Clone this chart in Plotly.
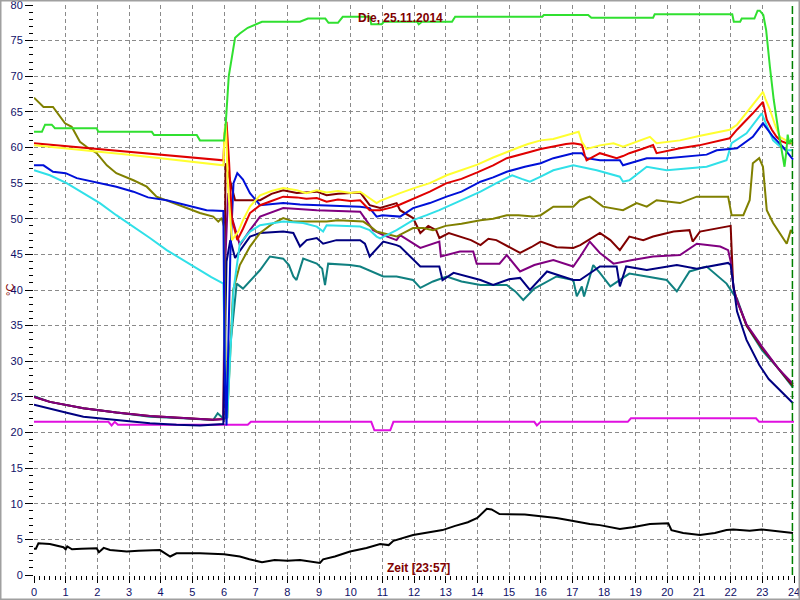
import plotly.graph_objects as go

# ---------------- data (hours, °C) ----------------
green_h = [0, 0.25, 0.35, 0.56, 0.66, 1.98, 2.03, 3.72, 3.79, 5.14, 5.24, 6.0, 6.05, 6.15, 6.35, 6.5, 6.75, 7.0, 7.2, 8.4, 8.65, 9.2, 9.3, 9.6, 9.75, 10.6, 10.65, 10.98, 11.05, 12.1, 12.15, 12.25, 13.2, 13.3, 16.05, 16.1, 17.5, 17.6, 19.55, 19.6, 22.05, 22.1, 22.3, 22.35, 22.75, 22.85, 22.92, 23.03, 23.12, 23.24, 23.36, 23.5, 23.6, 23.7, 23.76, 23.8, 23.85, 23.9, 23.95]
green_v = [62.2, 62.2, 63.2, 63.2, 62.7, 62.7, 62.2, 62.2, 61.75, 61.75, 61.0, 61.0, 63.0, 70.0, 75.4, 76.0, 76.8, 77.3, 77.65, 77.65, 78.1, 78.1, 77.5, 77.5, 78.35, 78.35, 77.3, 77.3, 77.65, 77.65, 77.3, 77.65, 77.65, 78.35, 78.35, 78.6, 78.6, 78.2, 78.2, 78.7, 78.7, 77.65, 77.65, 78.1, 78.1, 79.2, 79.2, 78.6, 76.5, 71.3, 66.7, 62.5, 60.0, 57.3, 59.5, 61.8, 60.5, 61.0, 60.8]

yellow_h = [0, 1, 2, 3, 4, 5, 5.98, 6.02, 6.06, 6.12, 6.25, 6.45, 6.6, 6.82, 7.14, 7.5, 7.87, 8.3, 8.6, 8.93, 9.24, 9.6, 10.0, 10.3, 10.6, 10.82, 10.93, 11.2, 11.56, 12.0, 12.5, 13.03, 13.5, 14.0, 14.5, 14.93, 15.3, 15.6, 16.0, 16.4, 16.8, 17.0, 17.2, 17.3, 17.45, 17.87, 18.3, 18.6, 19.0, 19.45, 19.66, 20.0, 20.4, 21.0, 21.5, 21.97, 22.2, 22.4, 22.6, 22.82, 23.02, 23.1, 23.24, 23.4, 23.55, 23.75, 23.97]
yellow_v = [60.3, 59.9, 59.4, 59.0, 58.5, 58.0, 57.5, 62.5, 63.5, 55.0, 47.0, 48.2, 49.8, 51.7, 53.3, 53.9, 54.3, 54.0, 53.6, 54.0, 53.7, 53.9, 53.6, 53.8, 52.8, 52.2, 52.5, 53.0, 53.6, 54.3, 55.0, 56.1, 56.8, 57.6, 58.6, 59.4, 60.0, 60.5, 61.0, 61.2, 61.7, 62.0, 62.2, 60.8, 59.8, 60.3, 60.6, 60.1, 60.8, 61.5, 60.6, 60.8, 61.0, 61.6, 62.1, 62.5, 63.2, 64.3, 65.5, 66.7, 67.8, 66.8, 65.3, 63.2, 61.5, 61.0, 60.6]

red_h = [0, 1, 2, 3, 4, 5, 5.98, 6.02, 6.08, 6.16, 6.25, 6.42, 6.6, 6.82, 7.14, 7.5, 7.87, 8.3, 8.6, 8.93, 9.24, 9.6, 10.0, 10.3, 10.6, 10.93, 11.3, 11.56, 12.0, 12.5, 13.03, 13.5, 14.0, 14.5, 14.93, 15.3, 15.6, 16.0, 16.4, 16.8, 17.03, 17.3, 17.4, 17.45, 17.87, 18.4, 18.6, 18.8, 19.2, 19.55, 19.66, 20.0, 20.4, 21.0, 21.5, 21.97, 22.2, 22.45, 22.7, 23.02, 23.14, 23.3, 23.45, 23.6, 23.77, 23.97]
red_v = [60.6, 60.2, 59.8, 59.4, 59.0, 58.6, 58.2, 62.0, 63.6, 58.0, 50.0, 47.0, 48.6, 50.8, 51.9, 52.5, 53.1, 53.0, 52.8, 52.9, 52.4, 52.7, 52.5, 52.6, 51.2, 51.2, 51.6, 52.0, 52.8, 53.8, 55.0, 55.6, 56.5, 57.5, 58.5, 59.0, 59.3, 59.8, 60.2, 60.5, 60.6, 60.4, 58.8, 58.2, 59.2, 58.5, 58.8, 59.2, 59.8, 60.35, 59.2, 59.5, 59.9, 60.3, 60.8, 61.3, 62.5, 63.6, 64.8, 66.4, 63.9, 62.5, 61.5, 60.9, 60.6, 60.6]

blue_h = [0, 0.3, 0.6, 1.0, 1.35, 2.08, 2.6, 3.14, 3.6, 4.19, 4.82, 5.45, 5.98, 6.02, 6.08, 6.2, 6.3, 6.42, 6.6, 6.82, 7.14, 7.5, 7.87, 8.4, 8.93, 9.5, 10.3, 10.6, 10.82, 11.0, 11.56, 11.97, 12.5, 13.03, 13.5, 14.1, 14.5, 14.93, 15.5, 16.0, 16.4, 17.03, 17.3, 17.45, 17.87, 18.5, 18.6, 19.35, 20.0, 21.24, 21.56, 22.2, 22.7, 23.02, 23.34, 23.65, 23.97]
blue_v = [57.5, 57.5, 56.6, 56.4, 55.7, 55.0, 54.5, 53.8, 53.0, 52.6, 51.9, 51.2, 51.1, 30.0, 21.0, 45.0, 55.0, 56.4, 55.5, 53.6, 51.9, 52.0, 52.2, 52.0, 51.9, 51.8, 51.7, 51.5, 50.3, 50.5, 50.3, 51.5, 52.2, 53.1, 53.8, 55.2, 55.8, 56.6, 57.3, 57.8, 58.5, 59.2, 59.2, 58.5, 58.2, 58.2, 57.5, 58.5, 58.5, 59.0, 59.6, 59.9, 61.5, 63.4, 61.5, 60.1, 58.3]

cyan_h = [0, 0.5, 1.03, 1.5, 2.08, 2.6, 3.14, 3.66, 4.19, 4.7, 5.24, 5.6, 5.98, 6.03, 6.1, 6.3, 6.5, 6.82, 7.14, 7.87, 8.5, 8.93, 9.13, 9.24, 10.3, 10.6, 10.82, 10.93, 11.45, 11.97, 12.4, 12.8, 13.4, 14.1, 14.6, 15.1, 15.4, 15.66, 16.0, 16.4, 17.03, 17.24, 17.77, 18.5, 18.6, 18.8, 19.35, 19.98, 20.5, 21.24, 21.87, 22.03, 22.5, 22.98, 23.1, 23.34, 23.55, 23.77, 23.97]
cyan_v = [56.8, 56.1, 55.0, 53.7, 52.2, 50.5, 48.9, 47.3, 45.6, 44.2, 42.8, 41.8, 40.9, 30.0, 22.0, 40.0, 46.5, 48.2, 49.1, 49.6, 49.4, 48.9, 48.2, 49.1, 48.9, 48.4, 47.5, 47.25, 48.4, 49.8, 50.5, 51.2, 52.4, 53.8, 55.0, 56.1, 55.6, 55.2, 55.9, 56.8, 57.5, 57.3, 56.8, 55.9, 55.2, 55.4, 57.3, 56.8, 57.0, 57.3, 58.2, 60.6, 62.0, 64.8, 63.5, 61.0, 60.2, 59.6, 59.6]

olive_h = [0, 0.3, 0.6, 0.98, 1.19, 1.45, 1.66, 1.98, 2.3, 2.6, 3.14, 3.56, 3.87, 4.4, 4.8, 5.24, 5.66, 5.82, 5.93, 6.0, 6.05, 6.1, 6.29, 6.5, 6.82, 7.14, 7.5, 7.87, 8.19, 8.6, 9.24, 9.6, 10.4, 10.6, 10.82, 11.0, 11.45, 11.97, 12.3, 12.6, 13.0, 13.5, 14.1, 14.5, 14.93, 15.3, 15.76, 16.0, 16.4, 17.03, 17.24, 17.55, 17.97, 18.6, 19.03, 19.35, 19.66, 20.4, 20.93, 21.92, 22.03, 22.4, 22.6, 22.7, 22.9, 23.02, 23.14, 23.34, 23.55, 23.77, 23.9, 23.97]
olive_v = [67.0, 65.7, 65.7, 63.4, 62.9, 60.8, 60.1, 59.2, 57.5, 56.4, 55.4, 54.5, 53.1, 52.2, 51.5, 50.8, 50.3, 49.6, 50.1, 48.9, 30.0, 22.0, 40.0, 43.5, 46.1, 48.0, 49.2, 50.1, 49.6, 49.6, 49.6, 49.8, 49.6, 49.0, 48.2, 48.0, 47.5, 48.7, 48.7, 48.4, 49.0, 49.3, 49.8, 50.0, 50.5, 50.5, 50.3, 50.5, 51.7, 51.7, 52.6, 53.1, 51.7, 51.2, 52.2, 51.7, 52.6, 52.2, 53.1, 53.1, 50.5, 50.5, 52.6, 57.8, 58.5, 57.3, 51.2, 49.4, 48.0, 46.5, 48.4, 48.0]

maroon_h = [0, 0.5, 1.56, 2.6, 3.66, 4.7, 5.66, 5.98, 6.05, 6.35, 7.14, 7.5, 7.87, 8.3, 8.93, 9.24, 9.6, 10.3, 10.6, 10.93, 11.45, 11.56, 11.97, 12.2, 12.45, 12.7, 12.8, 13.1, 13.45, 13.8, 14.1, 14.35, 14.6, 15.0, 15.35, 15.7, 16.0, 16.5, 17.03, 17.25, 17.66, 17.87, 18.2, 18.5, 18.8, 19.24, 19.55, 20.2, 20.7, 20.8, 21.03, 21.92, 22.0, 22.08, 22.2, 22.5, 23.0, 23.5, 23.97]
maroon_v = [25.0, 24.3, 23.4, 22.8, 22.3, 22.0, 21.8, 21.9, 57.8, 52.6, 52.6, 53.5, 54.0, 53.6, 53.8, 53.3, 53.5, 53.7, 51.9, 51.5, 52.2, 51.2, 50.1, 48.0, 49.0, 48.4, 47.3, 48.0, 47.5, 47.0, 46.3, 47.2, 47.0, 46.0, 45.2, 46.0, 46.8, 46.0, 45.9, 46.3, 47.5, 48.0, 47.0, 45.6, 47.5, 47.0, 47.5, 48.2, 48.4, 46.8, 48.2, 49.0, 49.0, 40.5, 38.5, 35.0, 31.8, 29.0, 26.5]

purple_h = [0, 0.5, 1.56, 2.6, 3.66, 4.7, 5.66, 5.98, 6.05, 6.13, 6.24, 6.5, 6.82, 7.14, 7.87, 8.93, 10.3, 10.71, 11.03, 11.45, 11.56, 12.2, 12.8, 12.85, 13.45, 13.87, 13.98, 14.7, 14.93, 15.35, 15.8, 16.4, 17.03, 17.25, 17.55, 17.87, 18.3, 18.9, 19.55, 20.4, 20.93, 21.67, 21.92, 22.0, 22.1, 22.2, 22.5, 23.0, 23.5, 23.97]
purple_v = [25.0, 24.3, 23.4, 22.8, 22.3, 22.0, 21.8, 21.9, 45.0, 53.6, 50.3, 46.3, 48.4, 50.3, 51.5, 51.2, 51.0, 48.4, 47.7, 47.0, 47.7, 45.9, 46.8, 44.7, 45.4, 45.4, 43.7, 43.7, 44.9, 42.6, 43.5, 44.2, 43.3, 44.7, 46.8, 45.2, 43.7, 44.2, 44.7, 44.9, 46.5, 46.1, 45.6, 44.0, 40.0, 38.5, 35.2, 32.0, 29.0, 26.8]

navy_h = [0, 0.5, 1.0, 1.56, 2.6, 3.66, 4.5, 5.24, 5.98, 6.03, 6.08, 6.2, 6.35, 6.5, 6.82, 7.14, 7.87, 8.19, 8.4, 8.61, 8.93, 9.13, 9.55, 10.3, 10.45, 10.6, 11.03, 11.45, 11.56, 12.2, 12.8, 12.9, 13.25, 14.1, 14.5, 15.0, 15.35, 15.66, 16.2, 17.03, 17.24, 17.87, 18.4, 18.5, 18.7, 19.35, 20.3, 20.93, 21.92, 22.0, 22.1, 22.2, 22.5, 22.9, 23.2, 23.55, 23.97]
navy_v = [23.9, 23.3, 22.8, 22.2, 21.75, 21.3, 21.1, 21.0, 21.2, 35.0, 44.0, 47.0, 44.5, 45.5, 47.5, 48.0, 48.2, 48.0, 46.1, 47.0, 47.3, 46.5, 47.0, 47.0, 46.5, 44.7, 46.8, 46.3, 46.1, 43.3, 43.3, 41.4, 42.4, 41.4, 40.7, 41.5, 41.7, 40.0, 42.6, 41.4, 41.4, 43.3, 43.3, 40.5, 43.3, 42.8, 43.5, 43.0, 43.8, 43.5, 40.0, 37.0, 33.0, 29.5, 27.5, 26.0, 24.1]

teal_h = [0, 0.5, 1.56, 2.6, 3.66, 4.7, 5.66, 5.8, 5.97, 6.05, 6.15, 6.4, 6.6, 7.14, 7.45, 7.87, 8.05, 8.19, 8.29, 8.5, 8.93, 9.1, 9.19, 9.29, 9.98, 10.3, 10.82, 11.03, 11.45, 11.97, 12.2, 12.6, 13.03, 13.5, 14.1, 14.93, 15.2, 15.45, 15.8, 16.5, 17.03, 17.14, 17.3, 17.37, 17.66, 17.87, 18.2, 18.8, 19.35, 19.98, 20.3, 20.7, 21.24, 21.87, 22.08, 22.2, 22.5, 23.0, 23.5, 23.97]
teal_v = [25.1, 24.3, 23.4, 22.8, 22.2, 22.0, 21.75, 22.7, 22.0, 22.0, 30.0, 40.9, 40.2, 42.8, 44.7, 44.4, 43.5, 41.9, 41.4, 44.4, 43.7, 43.0, 40.7, 43.7, 43.5, 43.3, 42.3, 41.9, 41.9, 41.4, 40.3, 41.2, 41.9, 41.2, 40.7, 40.7, 39.8, 38.6, 40.2, 41.9, 41.4, 39.1, 40.5, 39.1, 43.5, 42.4, 40.5, 42.3, 41.9, 41.4, 39.8, 42.6, 43.3, 40.9, 39.5, 38.8, 35.0, 31.5, 29.0, 26.3]

magenta_h = [0, 2.35, 2.45, 2.55, 2.65, 6.75, 6.85, 10.65, 10.75, 11.25, 11.35, 15.8, 15.88, 16.0, 18.75, 18.85, 22.8, 22.9, 24.0]
magenta_v = [21.5, 21.5, 21.0, 21.5, 21.1, 21.1, 21.5, 21.5, 20.3, 20.3, 21.5, 21.5, 21.0, 21.5, 21.5, 22.0, 22.0, 21.5, 21.5]

black_h = [0, 0.06, 0.14, 0.5, 0.93, 1.0, 1.05, 1.2, 1.5, 1.98, 2.05, 2.2, 2.4, 2.93, 3.3, 3.98, 4.3, 4.5, 5.24, 5.8, 6.0, 6.5, 6.8, 7.2, 7.6, 8.0, 8.4, 9.03, 9.13, 9.5, 9.98, 10.5, 10.93, 11.2, 11.35, 11.97, 12.6, 12.9, 13.3, 13.7, 14.0, 14.3, 14.45, 14.7, 15.5, 16.0, 16.5, 16.9, 17.55, 17.87, 18.5, 18.9, 19.45, 20.03, 20.13, 20.5, 21.03, 21.5, 21.87, 22.08, 22.6, 22.98, 23.55, 23.97]
black_v = [3.7, 3.7, 4.45, 4.35, 3.9, 3.6, 4.0, 3.6, 3.7, 3.75, 3.2, 3.8, 3.5, 3.3, 3.4, 3.5, 2.6, 3.05, 3.05, 2.9, 2.9, 2.6, 2.2, 1.8, 2.1, 2.0, 2.1, 1.7, 2.2, 2.6, 3.3, 3.8, 4.35, 4.2, 4.8, 5.6, 6.1, 6.3, 6.9, 7.4, 8.0, 9.3, 9.2, 8.55, 8.5, 8.3, 8.0, 7.7, 7.15, 7.0, 6.45, 6.7, 7.15, 7.25, 6.3, 5.9, 5.6, 5.9, 6.3, 6.4, 6.2, 6.4, 6.1, 5.9]

now_h = 23 + 57 / 60
title_text = "Die, 25.11.2014"
time_text = "Zeit [23:57]"
unit_text = "°C"

x_ticks = list(range(0, 25))
y_ticks = list(range(0, 85, 5))

series = [
    (black_h, black_v, "#000000"),
    (magenta_h, magenta_v, "#e010e0"),
    (teal_h, teal_v, "#108080"),
    (maroon_h, maroon_v, "#800000"),
    (purple_h, purple_v, "#800080"),
    (navy_h, navy_v, "#000080"),
    (olive_h, olive_v, "#808000"),
    (cyan_h, cyan_v, "#30e0e8"),
    (blue_h, blue_v, "#0010d8"),
    (red_h, red_v, "#e00000"),
    (yellow_h, yellow_v, "#ffff30"),
    (green_h, green_v, "#30e030"),
]

fig = go.Figure()
for xs, ys, col in series:
    fig.add_trace(go.Scatter(x=xs, y=ys, mode="lines",
                             line=dict(color=col, width=2), showlegend=False,
                             hoverinfo="skip"))

W, H = 800, 600
ML, MR, MT, MB = 34, 6, 5, 25
pw, ph = W - ML - MR, H - MT - MB

def px_x(p):
    return (p - ML) / pw

def px_y(p):
    return (H - MB - p) / ph

tickfont = dict(family="Liberation Sans, Arial, sans-serif", size=11, color="#101068")
axis_common = dict(showgrid=True, gridcolor="#8a8a8a", gridwidth=1, griddash="4px,3px",
                   zeroline=False, showline=False, ticks="outside", tickcolor="#000000",
                   tickwidth=1, tickfont=tickfont, fixedrange=True, automargin=False,
                   ticklabeloverflow="allow")

fig.update_layout(
    width=W, height=H,
    margin=dict(l=ML, r=MR, t=MT, b=MB, pad=0, autoexpand=False),
    paper_bgcolor="white", plot_bgcolor="white",
    xaxis=dict(range=[0, 24], tickmode="array", tickvals=x_ticks,
               ticktext=[str(t) for t in x_ticks], ticklen=7,
               minor=dict(dtick=1 / 6, tick0=0, ticks="outside", ticklen=4,
                          tickcolor="#000000", showgrid=False),
               **axis_common),
    yaxis=dict(range=[0, 80], tickmode="array", tickvals=y_ticks,
               ticktext=[str(t) for t in y_ticks], ticklen=8,
               minor=dict(dtick=1, tick0=0, ticks="outside", ticklen=4,
                          tickcolor="#000000", showgrid=False),
               **axis_common),
    shapes=[
        dict(type="line", xref="x", yref="paper", x0=now_h, x1=now_h, y0=0, y1=1,
             line=dict(color="#008000", width=1.5, dash="8px,3px")),
        dict(type="rect", xref="paper", yref="paper",
             x0=px_x(0.5), x1=px_x(W - 0.5), y0=px_y(H - 0.5), y1=px_y(0.5),
             line=dict(color="#a0a0a0", width=2), fillcolor="rgba(0,0,0,0)"),
    ],
    annotations=[
        dict(text="<b>" + title_text + "</b>", xref="paper", yref="paper",
             x=px_x(400), y=px_y(18), showarrow=False, xanchor="center", yanchor="middle",
             font=dict(family="Liberation Sans, Arial, sans-serif", size=12, color="#800000")),
        dict(text="<b>" + time_text + "</b>", xref="paper", yref="paper",
             x=px_x(418), y=px_y(568), showarrow=False, xanchor="center", yanchor="middle",
             font=dict(family="Liberation Sans, Arial, sans-serif", size=12, color="#800000")),
        dict(text=unit_text, xref="paper", yref="paper",
             x=px_x(10), y=px_y(290), showarrow=False, textangle=-90,
             xanchor="center", yanchor="middle",
             font=dict(family="Liberation Sans, Arial, sans-serif", size=11, color="#800000")),
    ],
)

fig.write_html("out.html", config={"displayModeBar": False},
               post_script="document.body.style.margin='0px';document.body.style.overflow='hidden';")
